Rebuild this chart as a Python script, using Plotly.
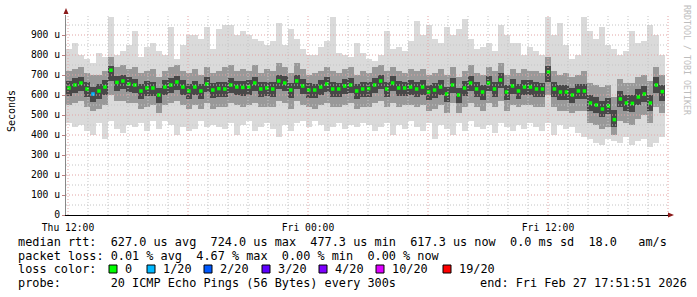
import plotly.graph_objects as go
from datetime import datetime, timedelta

# ---------------- data (values in microseconds) ----------------
median = [635, 650, 660, 630, 605, 620, 640, 724, 663, 670,
          655, 650, 620, 635, 635, 600, 640, 650, 665, 640,
          620, 640, 620, 655, 625, 632, 630, 650, 640, 638,
          640, 660, 630, 635, 630, 670, 660, 625, 670, 645,
          625, 625, 640, 655, 630, 630, 645, 650, 620, 630,
          632, 650, 670, 630, 660, 635, 635, 640, 630, 640,
          615, 625, 640, 605, 650, 600, 635, 660, 630, 615,
          660, 630, 675, 615, 645, 620, 640, 640, 630, 630,
          715, 630, 615, 615, 600, 620, 620, 560, 550, 530,
          545, 477, 580, 560, 558, 590, 605, 560, 650, 617]

smoke_hi = [830, 860, 800, 780, 760, 810, 790, 990, 800, 820,
            850, 920, 790, 840, 860, 820, 800, 940, 780, 850,
            900, 900, 880, 940, 830, 930, 950, 950, 900, 920,
            900, 880, 870, 850, 870, 960, 850, 930, 880, 830,
            800, 800, 840, 870, 990, 810, 800, 790, 860, 810,
            780, 770, 800, 920, 830, 840, 820, 870, 970, 900,
            950, 880, 860, 940, 900, 930, 980, 880, 830, 840,
            860, 820, 950, 900, 860, 860, 800, 840, 820, 800,
            990, 900, 960, 850, 780, 800, 990, 920, 880, 940,
            850, 830, 800, 820, 920, 860, 870, 950, 900, 800]

smoke_lo = [460, 440, 450, 420, 400, 460, 380, 470, 430, 410,
            450, 440, 460, 420, 470, 430, 470, 450, 400, 440,
            420, 430, 470, 440, 450, 440, 430, 460, 400, 450,
            470, 420, 440, 460, 430, 390, 450, 420, 460, 470,
            440, 470, 450, 420, 440, 460, 430, 450, 440, 460,
            450, 420, 440, 460, 400, 450, 430, 470, 440, 420,
            460, 380, 450, 430, 400, 460, 420, 470, 440, 430,
            450, 410, 460, 440, 420, 450, 430, 460, 440, 420,
            460, 400, 450, 430, 440, 410, 390, 380, 360, 350,
            380, 370, 360, 390, 350, 370, 380, 340, 360, 390]

mid_hi = [720, 730, 740, 710, 700, 700, 720, 790, 740, 750,
          730, 740, 710, 720, 730, 690, 720, 740, 750, 720,
          710, 730, 700, 740, 710, 720, 740, 750, 720, 730,
          720, 750, 710, 730, 720, 760, 740, 710, 760, 730,
          700, 710, 720, 740, 720, 710, 730, 740, 700, 720,
          710, 740, 750, 720, 740, 720, 710, 730, 720, 730,
          700, 710, 730, 700, 740, 690, 720, 750, 710, 700,
          740, 720, 760, 700, 730, 710, 730, 720, 720, 710,
          790, 720, 700, 710, 690, 700, 720, 660, 650, 640,
          650, 590, 680, 660, 660, 690, 700, 670, 740, 700]

mid_lo = [550, 560, 570, 540, 520, 530, 550, 600, 570, 570,
          560, 560, 530, 540, 550, 510, 550, 560, 570, 550,
          530, 550, 530, 560, 530, 540, 540, 560, 550, 540,
          550, 560, 540, 540, 540, 570, 560, 530, 570, 550,
          540, 530, 550, 560, 540, 540, 550, 560, 530, 540,
          540, 560, 570, 540, 560, 540, 550, 550, 540, 550,
          520, 530, 550, 510, 560, 510, 540, 560, 540, 520,
          560, 540, 570, 520, 550, 540, 550, 550, 540, 540,
          600, 540, 520, 520, 510, 520, 520, 460, 450, 430,
          440, 400, 470, 460, 450, 480, 500, 460, 540, 510]

core_hi = [670, 685, 690, 665, 640, 655, 675, 745, 695, 700,
           690, 680, 655, 670, 665, 635, 675, 685, 695, 675,
           655, 670, 655, 690, 660, 665, 665, 685, 670, 670,
           675, 690, 665, 665, 665, 700, 695, 660, 700, 680,
           660, 655, 675, 690, 665, 660, 680, 685, 655, 665,
           665, 685, 700, 665, 695, 670, 665, 675, 665, 675,
           650, 660, 675, 640, 685, 635, 670, 695, 665, 650,
           695, 665, 710, 650, 680, 655, 675, 675, 665, 660,
           745, 665, 650, 650, 635, 655, 655, 600, 590, 570,
           585, 525, 620, 600, 600, 630, 645, 600, 690, 650]

core_lo = [595, 610, 620, 590, 565, 580, 600, 670, 620, 630,
           615, 610, 580, 595, 595, 560, 600, 610, 625, 600,
           580, 600, 580, 615, 585, 590, 590, 610, 600, 595,
           600, 620, 590, 595, 590, 630, 620, 585, 630, 605,
           585, 585, 600, 615, 590, 590, 605, 610, 580, 590,
           590, 610, 630, 590, 620, 595, 595, 600, 590, 600,
           575, 585, 600, 565, 610, 560, 595, 620, 590, 575,
           620, 590, 635, 575, 605, 580, 600, 600, 590, 590,
           665, 590, 575, 575, 560, 580, 580, 520, 510, 490,
           505, 440, 540, 520, 515, 550, 565, 520, 610, 570]

loss = [0, 0, 0, 0, 1, 0, 0, 0, 0, 0,
        0, 0, 0, 0, 0, 0, 0, 0, 0, 0,
        0, 0, 0, 0, 0, 0, 0, 0, 0, 0,
        0, 0, 0, 0, 0, 0, 0, 0, 0, 0,
        0, 0, 0, 0, 0, 0, 0, 0, 0, 0,
        0, 0, 0, 0, 0, 0, 0, 0, 0, 0,
        0, 0, 0, 0, 0, 0, 0, 0, 0, 0,
        0, 0, 0, 0, 0, 0, 0, 0, 0, 0,
        0, 0, 0, 0, 0, 0, 0, 0, 0, 0,
        0, 0, 0, 0, 0, 0, 0, 0, 0, 0]

y_ticks = [0, 100, 200, 300, 400, 500, 600, 700, 800, 900]
y_ticktext = ["0", "100 u", "200 u", "300 u", "400 u", "500 u", "600 u", "700 u", "800 u", "900 u"]
x_ticktext = ["Thu 12:00", "Fri 00:00", "Fri 12:00"]

loss_levels = ["0", "1/20", "2/20", "3/20", "4/20", "10/20", "19/20"]
loss_colors = ["#00ff00", "#00b8ff", "#0059ff", "#5e00ff", "#7e00ff", "#dd00ff", "#ff0000"]

stats_line1 = "median rtt:  627.0 us avg  724.0 us max  477.3 us min  617.3 us now  0.0 ms sd  18.0   am/s"
stats_line2 = "packet loss: 0.01 % avg  4.67 % max  0.00 % min  0.00 % now"
probe_line = "probe:       20 ICMP Echo Pings (56 Bytes) every 300s"
end_line = "end: Fri Feb 27 17:51:51 2026"

# ---------------- time axis ----------------
t_start = datetime(2026, 2, 26, 11, 54, 0)
t_end = datetime(2026, 2, 27, 17, 52, 0)
n = len(median)
step = (t_end - t_start) / n
centers = [t_start + step * (i + 0.5) for i in range(n)]
width_ms = step.total_seconds() * 1000
x_range = [t_start, datetime(2026, 2, 27, 18, 3, 0)]
x_tickvals = [datetime(2026, 2, 26, 12), datetime(2026, 2, 27, 0), datetime(2026, 2, 27, 12)]

MONO = "DejaVu Sans Mono"
fig = go.Figure()


def band(lo, hi, color):
    fig.add_trace(go.Bar(
        x=centers, base=lo, y=[h - l for h, l in zip(hi, lo)],
        width=width_ms, marker=dict(color=color, line=dict(width=0)),
        hoverinfo="skip", showlegend=False))


band(smoke_lo, smoke_hi, "#dadada")
band(mid_lo, mid_hi, "#999999")
band(core_lo, core_hi, "#484848")

lc = {0: loss_colors[0], 1: loss_colors[1], 2: loss_colors[2], 3: loss_colors[3],
      4: loss_colors[4], 10: loss_colors[5], 19: loss_colors[6]}
fig.add_trace(go.Scatter(
    x=centers, y=median, mode="markers",
    marker=dict(symbol="square", size=3.5, color=[lc[v] for v in loss], line=dict(width=0)),
    showlegend=False, hoverinfo="skip"))

# ---------------- layout geometry ----------------
L, R, T, B = 66, 28, 15, 82
W = 697 - L - R
H = 297 - T - B


def px(x):
    return (x - L) / W


def py(y):
    return (297 - B - y) / H


shapes = []
# grid on top of smoke (rrdtool style)
hour = datetime(2026, 2, 26, 12)
while hour <= x_range[1]:
    major = hour.hour % 6 == 0
    shapes.append(dict(type="line", xref="x", yref="paper", x0=hour, x1=hour, y0=0, y1=1,
                       layer="above",
                       line=dict(color="#e2a4a4" if major else "#c4c4c4", width=1, dash="1px,2px")))
    hour += timedelta(hours=1)
for v in range(50, 1000, 50):
    major = v % 100 == 0
    shapes.append(dict(type="line", xref="paper", yref="y", x0=0, x1=1, y0=v, y1=v,
                       layer="above",
                       line=dict(color="#e2a4a4" if major else "#c4c4c4", width=1, dash="1px,2px")))

# axis arrows
arrow_col = "#8b1a1a"
shapes.append(dict(type="path", xref="paper", yref="paper", layer="above",
                   path=f"M {px(63.5)} {py(14)} L {px(68.5)} {py(14)} L {px(66)} {py(8)} Z",
                   fillcolor=arrow_col, line=dict(width=0)))
shapes.append(dict(type="path", xref="paper", yref="paper", layer="above",
                   path=f"M {px(668)} {py(212.5)} L {px(668)} {py(217.5)} L {px(674)} {py(215)} Z",
                   fillcolor=arrow_col, line=dict(width=0)))

annotations = []
FS = 11.85


def text(x, y, s, size=FS, color="black", **kw):
    annotations.append(dict(xref="paper", yref="paper", x=px(x), y=py(y), text=s.replace(" ", "\u00a0"),
                            showarrow=False, xanchor=kw.pop("xanchor", "left"), yanchor="middle",
                            font=dict(family=MONO, size=size, color=color), **kw))


text(16, 241.5, stats_line1)
text(16, 255.5, stats_line2)
text(16, 269, "loss color:")
box_x = [109, 147, 204, 262, 319, 376, 443]
for bx, lab, col in zip(box_x, loss_levels, loss_colors):
    shapes.append(dict(type="rect", xref="paper", yref="paper",
                       x0=px(bx), x1=px(bx + 8), y0=py(273), y1=py(265),
                       fillcolor=col, line=dict(color="black", width=1)))
    text(bx + 14, 269, lab)
text(16, 283, probe_line)
text(478, 283, end_line)

# y title and watermark
text(11, 111, "Seconds", size=10, textangle=-90, xanchor="center")
text(687, 60, "RRDTOOL / TOBI OETIKER", size=8.3, color="#bdbdbd", textangle=90, xanchor="center")

fig.update_layout(
    width=697, height=297,
    margin=dict(l=L, r=R, t=T, b=B, pad=0),
    paper_bgcolor="white", plot_bgcolor="white",
    barmode="overlay", bargap=0,
    shapes=shapes, annotations=annotations,
    showlegend=False,
    xaxis=dict(range=x_range, type="date", tickvals=x_tickvals, ticktext=x_ticktext,
               showgrid=False, zeroline=False, showline=True, linecolor="black", linewidth=1,
               ticks="", ticklabelstandoff=3,
               tickfont=dict(family=MONO, size=9.7, color="black"), fixedrange=True),
    yaxis=dict(range=[0, 1000], tickvals=y_ticks, ticktext=y_ticktext, showgrid=False,
               zeroline=False, showline=True, linecolor="#888888", linewidth=1,
               ticks="outside", ticklen=3, tickcolor="#c08080",
               tickfont=dict(family=MONO, size=9.7, color="black"), fixedrange=True),
)

fig.write_html("out.html")
